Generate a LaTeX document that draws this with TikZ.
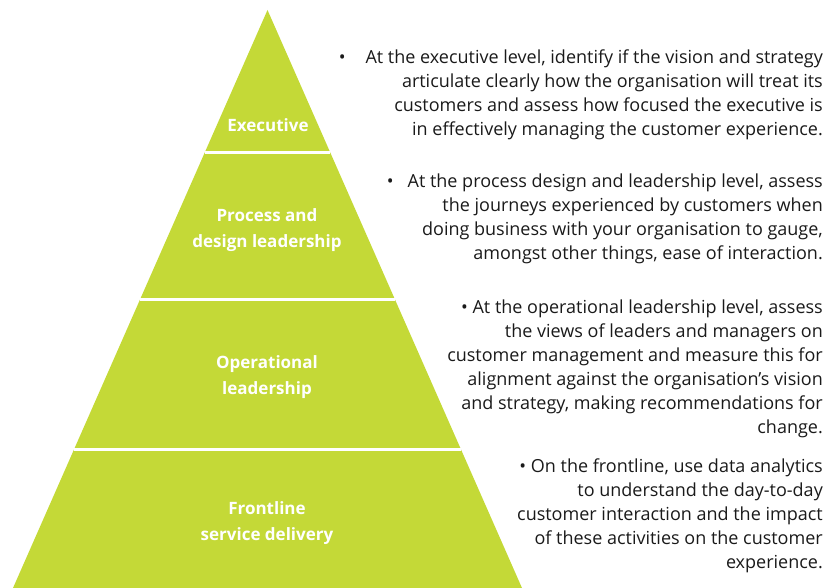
\documentclass[tikz,border=0pt]{standalone}
\usepackage{fontspec}
\setmainfont{Open Sans}
\usepackage{tikz}
\usetikzlibrary{calc}

\definecolor{pyrgreen}{HTML}{C4D937}
\definecolor{bodytext}{HTML}{1A1A1A}

\begin{document}
\begin{tikzpicture}[x=1pt,y=-1pt,
    tierlabel/.style={align=center, text=white, font=\fontsize{17}{26}\selectfont\bfseries},
    sidetext/.style={align=right, anchor=north east, inner sep=0pt, text=bodytext, font=\fontsize{18}{24}\selectfont},
    gapline/.style={white, line width=3pt}]
      \useasboundingbox (0,0) rectangle (840,588);

      % pyramid
      \coordinate (apex) at (267.5,10);
      \coordinate (bl) at (13,588);
      \coordinate (br) at (522,588);
      \fill[pyrgreen] (apex) -- (br) -- (bl) -- cycle;

      \draw[gapline] ($(apex)!0.2457!(bl)$) -- ($(apex)!0.2457!(br)$);
      \draw[gapline] ($(apex)!0.5017!(bl)$) -- ($(apex)!0.5017!(br)$);
      \draw[gapline] ($(apex)!0.7612!(bl)$) -- ($(apex)!0.7612!(br)$);

      \node[tierlabel] (exec) at (268,125) {Executive};
      \node[tierlabel] (proc) at (267,230) {Process and\\design leadership};
      \node[tierlabel] (oper) at (267,377) {Operational\\leadership};
      \node[tierlabel] (front) at (267,523) {Frontline\\service delivery};

      % descriptions
      \node[sidetext] (execnote) at (823,49.5) {\textbullet\hspace{20pt}At the executive level, identify if the vision and strategy\\articulate clearly how the organisation will treat its\\customers and assess how focused the executive is\\in effectively managing the customer experience.};
      \node[sidetext] (procnote) at (823,173.5) {\textbullet\hspace{14pt}At the process design and leadership level, assess\\the journeys experienced by customers when\\doing business with your organisation to gauge,\\amongst other things, ease of interaction.};
      \node[sidetext] (opernote) at (823,300) {\textbullet{} At the operational leadership level, assess\\the views of leaders and managers on\\customer management and measure this for\\alignment against the organisation’s vision\\and strategy, making recommendations for\\change.};
      \node[sidetext] (frontnote) at (823,459) {\textbullet{} On the frontline, use data analytics\\to understand the day-to-day\\customer interaction and the impact\\of these activities on the customer\\experience.};
\end{tikzpicture}
\end{document}
